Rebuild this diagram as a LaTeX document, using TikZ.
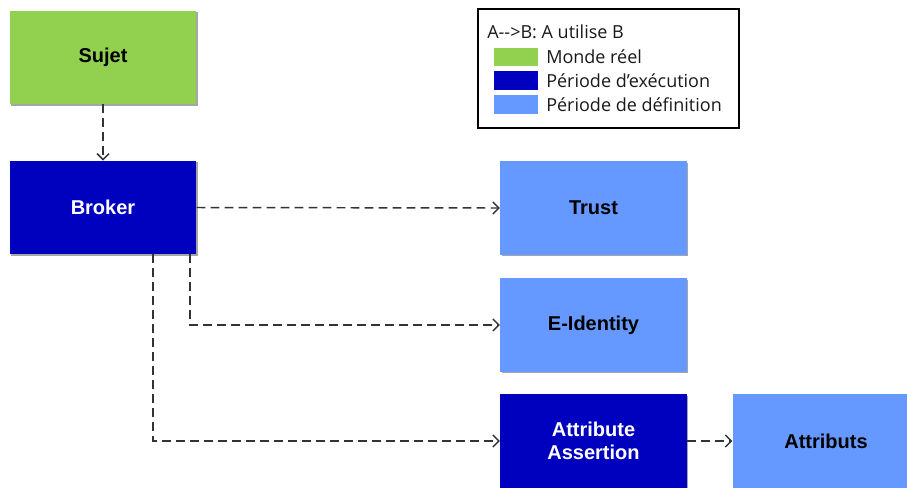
\documentclass[tikz,border=0pt]{standalone}
\usepackage{fontspec}
\setmainfont{Liberation Sans}
\newfontfamily\legfont{Open Sans}
\usetikzlibrary{arrows.meta,shadows}
\definecolor{cgreen}{HTML}{92D050}
\definecolor{cdark}{HTML}{0000BF}
\definecolor{clight}{HTML}{6699FF}
\definecolor{cline}{HTML}{333333}
\begin{document}
\begin{tikzpicture}[x=0.75pt,y=-0.75pt,
  box/.style={minimum width=140pt,minimum height=70pt,inner sep=0pt,align=center,
     font=\bfseries\fontsize{15}{17.25}\selectfont,
     drop shadow={shadow xshift=1.2pt,shadow yshift=-1.2pt,opacity=0.35,fill=black}},
  realw/.style={box,fill=cgreen,text=black},
  runt/.style={box,fill=cdark,text=white},
  deft/.style={box,fill=clight,text=black},
  uses/.style={draw=cline,line width=1.1pt,dash pattern=on 6.5pt off 4pt,
     -{Straight Barb[length=4.5pt,width=9pt]}},
  swatch/.style={minimum width=33pt,minimum height=14pt,inner sep=0pt},
  legtext/.style={anchor=west,inner sep=0pt,font=\legfont\fontsize{13.5}{15}\selectfont,text=black!90}]
\useasboundingbox (0,0) rectangle (907,487);
% nodes
\node[realw] (sujet) at (103,57.5) {Sujet};
\node[runt] (broker) at (103,207.5) {Broker};
\node[deft] (trust) at (593.5,208) {Trust};
\node[deft] (eid) at (593.5,325) {E-Identity};
\node[runt] (aa) at (593.5,441) {Attribute\\Assertion};
\node[deft,minimum width=140pt] (attr) at (826,441) {Attributs};
% legend
\node[draw=black,line width=1pt,minimum width=195.75pt,minimum height=89.25pt,inner sep=0pt] (legend) at (608.5,68.5) {};
\node[legtext] (l0) at (487,32) {A-->B: A utilise B};
\node[swatch,fill=cgreen] (s1) at (516,57) {};
\node[swatch,fill=cdark] (s2) at (516,80.5) {};
\node[swatch,fill=clight] (s3) at (516,104.5) {};
\node[legtext] (l1) at (546,57) {Monde réel};
\node[legtext] (l2) at (546,80.5) {Période d’exécution};
\node[legtext] (l3) at (546,104.5) {Période de définition};
% connectors
\coordinate (b1) at (190,254);
\coordinate (b2) at (153,254);
\draw[uses] (sujet.south) -- (broker.north);
\draw[uses] (broker.east) -- (trust.west);
\draw[uses] (b1) |- (eid.west);
\draw[uses] (b2) |- (aa.west);
\draw[uses] (aa.east) -- (attr.west);
\end{tikzpicture}
\end{document}
